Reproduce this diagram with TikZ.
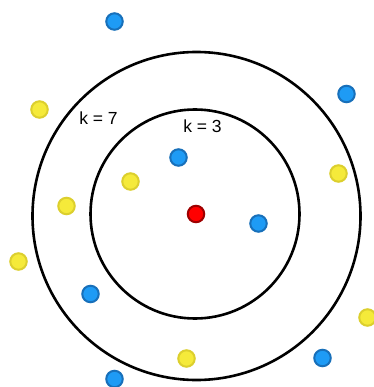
\documentclass[tikz,border=0pt]{standalone}
\usepackage{fontspec}
\setmainfont{Liberation Sans}
\usepackage{xcolor}
\usepackage{tikz}
\usetikzlibrary{positioning}

\definecolor{bluefill}{HTML}{1E9BF5}
\definecolor{blueline}{HTML}{1870BA}
\definecolor{yellowfill}{HTML}{F5EA3A}
\definecolor{yellowline}{HTML}{DCCF2E}
\definecolor{redfill}{HTML}{FF0000}
\definecolor{redline}{HTML}{9E0000}

\begin{document}
\begin{tikzpicture}[
    x=1pt, y=-1pt,
    ring/.style={draw=black, line width=2.6pt},
    dot/.style={circle, inner sep=0pt, minimum size=16.5pt, line width=2pt},
    bluedot/.style={dot, fill=bluefill, draw=blueline},
    yellowdot/.style={dot, fill=yellowfill, draw=yellowline},
    querydot/.style={dot, fill=redfill, draw=redline},
    klabel/.style={font=\fontsize{17.5}{20}\selectfont, inner sep=0pt}
]
\useasboundingbox (0,0) rectangle (373,387);

\node[querydot] (query) at (196,214) {};
\draw[ring] ([shift={(0.5,2)}]query.center) circle[radius=164];
\draw[ring] ([shift={(-1,0)}]query.center) circle[radius=104.5];

\node[klabel] (k7) at (98.5,118) {k = 7};
\node[klabel] (k3) at (202.5,126) {k = 3};

\node[bluedot] (b1) at (114.5,21.5) {};
\node[bluedot] (b2) at (346.5,94) {};
\node[bluedot] (b3) at (178.5,157.5) {};
\node[bluedot] (b4) at (258.5,223.5) {};
\node[bluedot] (b5) at (90.5,294) {};
\node[bluedot] (b6) at (322.5,358) {};
\node[bluedot] (b7) at (114.5,379) {};

\node[yellowdot] (y1) at (39.5,109.5) {};
\node[yellowdot] (y2) at (130.5,181.5) {};
\node[yellowdot] (y3) at (66.5,206) {};
\node[yellowdot] (y4) at (338.5,173.5) {};
\node[yellowdot] (y5) at (18.5,261.5) {};
\node[yellowdot] (y6) at (367.5,317.5) {};
\node[yellowdot] (y7) at (186.5,358.5) {};
\end{tikzpicture}
\end{document}
